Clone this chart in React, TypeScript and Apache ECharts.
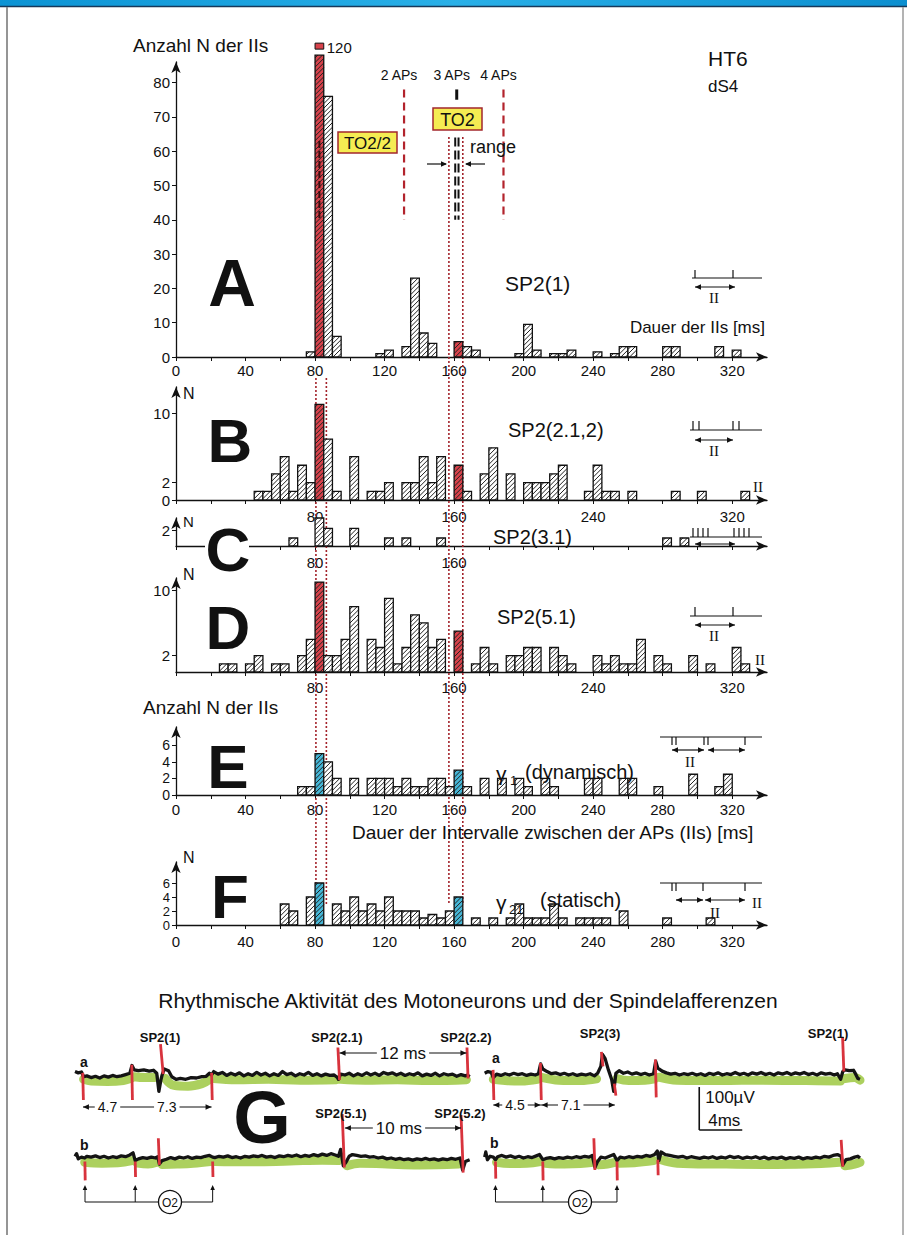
import React, { useEffect, useRef } from "react";
import * as echarts from "echarts";

const SANS = '"Liberation Sans", Arial, Helvetica, sans-serif';
const SERIF = '"Liberation Serif", "DejaVu Serif", serif';

// ---------- histogram data: [bin start (ms), count] ----------
const BIN_MS = 5;
const X_MAX = 340;
const HIGHLIGHT_BINS = [80, 160];
const A_PEAK_TRUE = 120;

const A_HIST = [[75,1.5],[80,88],[85,76],[90,6],[115,1],[120,2],[130,3],[135,23],[140,7],[145,4],[160,4.5],[165,3],[170,2],[195,1],[200,9.5],[205,2],[215,1],[220,1],[225,2],[240,1.5],[250,1],[255,3],[260,3],[280,3],[285,3],[310,3],[320,2]];
const B_HIST = [[45,1],[50,1],[55,3],[60,5],[65,1],[70,4],[75,2],[80,11],[85,7],[90,1],[100,5],[110,1],[115,1],[120,2],[130,2],[135,2],[140,5],[145,2],[150,5],[160,4],[165,1],[175,3],[180,6],[190,3],[200,2],[205,2],[210,2],[215,3],[220,4],[235,1],[240,4],[245,1],[250,1],[260,1],[285,1],[300,1],[325,1]];
const C_HIST = [[65,1],[80,3.5],[85,2.2],[100,2.2],[120,1],[130,1],[150,1],[280,1],[290,1]];
const D_HIST = [[25,1],[30,1],[40,1],[45,2],[55,1],[60,1],[70,2],[75,4],[80,11],[85,2],[90,2],[95,4],[100,8],[110,4],[115,3],[120,9],[125,1],[130,3],[135,7],[140,6],[145,3],[150,4],[160,5],[170,1],[175,3],[180,1],[190,2],[195,2],[200,3],[205,3],[215,3],[220,2],[225,1],[240,2],[245,1],[250,2],[255,1],[260,1],[265,4],[275,2],[280,1],[295,2],[305,1],[320,3],[325,1]];
const E_HIST = [[70,1],[75,1],[80,5],[85,4],[90,2],[100,2],[110,2],[115,2],[120,2],[125,1],[130,2],[135,1],[140,1],[145,2],[150,2],[155,1],[160,3],[165,1],[175,2],[185,2],[195,2],[200,1],[210,2],[215,1],[235,2],[240,2],[255,2],[260,2],[275,1],[295,2.5],[310,1],[315,2.5]];
const F_HIST = [[60,3],[65,2],[75,4],[80,6],[90,3],[95,2],[100,4],[105,2],[110,3],[115,2],[120,4],[125,2],[130,2],[135,2],[140,1],[145,1.5],[150,1],[155,2],[160,4],[170,1],[180,1],[190,1],[195,3],[200,1],[205,1],[210,1],[215,3],[220,1],[230,1],[235,1],[240,1],[245,1],[255,2],[280,1],[305,1]];

const X_TICKS = [0,20,40,60,80,100,120,140,160,180,200,220,240,260,280,300,320];
const X_LABELS_FULL = [0,40,80,120,160,200,240,280,320];
const X_LABELS_EVEN = [80,160,240,320];
const X_LABELS_C = [80,160];
const Y_LABELS_A = [0,10,20,30,40,50,60,70,80];
const Y_LABELS_B = [0,2,10];
const Y_LABELS_C = [2];
const Y_LABELS_D = [2,10];
const Y_LABELS_EF = [0,2,4,6];

// annotation positions in ms / N
const AP_LINES = [131.2, 161.5, 188.4];
const TO2_RANGE = [157, 165];
const TO2_HALF_RANGE = [80.5, 86.5];
const TO2_HALF_LINE = 82.5;

// ---------- recordings (G): [time ms, µV] ----------
const TRACE_A_LEFT = [[0,8],[0.3,5],[0.6,7],[0.8,-4],[1.1,-2],[1.5,-6],[1.9,-3],[2.3,-7],[2.7,-2],[3.1,-5],[3.5,-1],[3.9,-4],[4.3,-2],[4.7,1],[5.1,4],[5.3,22],[5.5,12],[5.9,10],[6.4,12],[6.9,9],[7.3,11],[7.6,4],[7.8,-38],[8.0,-10],[8.1,0],[8.3,14],[8.7,10],[9.0,-4],[9.4,-10],[9.8,-8],[10.3,-10],[10.8,-6],[11.3,-7],[11.8,-4],[12.2,-3],[12.5,4],[12.7,0],[12.9,8],[13.3,2],[13.7,6],[14.1,-1],[14.5,4],[14.9,0],[15.3,5],[15.7,-2],[16.1,3],[16.5,-1],[16.9,6],[17.3,0],[17.7,4],[18.1,-2],[18.5,3],[18.9,-1],[19.3,8],[19.7,1],[20.1,4],[20.5,-2],[20.9,3],[21.3,0],[21.7,6],[22.1,-1],[22.5,3],[22.9,-2],[23.3,2],[23.7,-1],[24.1,0],[24.4,-6],[24.5,-10],[24.7,2],[25.1,0],[25.5,4],[25.9,-2],[26.3,3],[26.7,-1],[27.1,5],[27.5,0],[27.9,4],[28.3,-1],[28.7,6],[29.1,2],[29.5,5],[29.9,0],[30.3,4],[30.7,-1],[31.1,3],[31.5,0],[31.9,5],[32.3,-2],[32.7,2],[33.1,-1],[33.5,4],[33.9,-2],[34.3,3],[34.7,0],[35.1,2],[35.5,-3],[35.9,1],[36.3,-2],[36.5,0],[36.7,-4]];
const TRACE_A_RIGHT = [[38.1,4],[38.4,8],[38.7,6],[38.9,-6],[39.2,2],[39.6,-1],[40,3],[40.4,0],[40.8,4],[41.2,1],[41.6,3],[42,-1],[42.4,2],[42.8,0],[43.1,3],[43.3,26],[43.5,14],[43.9,8],[44.3,3],[44.7,5],[45.1,1],[45.5,4],[45.9,0],[46.3,3],[46.7,-1],[47.1,2],[47.5,0],[47.9,3],[48.3,-2],[48.6,4],[48.9,20],[49.05,48],[49.3,38],[49.6,12],[49.9,-10],[50.1,-38],[50.3,4],[50.6,10],[51,4],[51.4,7],[51.8,2],[52.2,5],[52.6,1],[53,4],[53.4,0],[53.8,3],[54,32],[54.2,16],[54.6,9],[55,5],[55.4,2],[55.8,4],[56.2,0],[56.6,3],[57,1],[57.4,4],[57.8,0],[58.2,3],[58.6,-1],[59,4],[59.4,1],[59.8,5],[60.2,0],[60.6,3],[61,1],[61.4,6],[61.8,1],[62.2,4],[62.6,0],[63,5],[63.4,2],[63.8,6],[64.2,1],[64.6,4],[65,0],[65.4,5],[65.8,2],[66.2,6],[66.6,1],[67,5],[67.4,2],[67.8,6],[68.2,1],[68.6,4],[69,0],[69.4,5],[69.8,2],[70.2,4],[70.6,0],[70.9,3],[71.2,-10],[71.4,8],[71.6,12],[72,10],[72.4,11],[72.6,2],[72.8,-8],[73,-10]];
const TRACE_B_LEFT = [[0,4],[0.15,10],[0.3,-2],[0.6,2],[0.9,0],[1.1,4],[1.5,2],[1.9,5],[2.3,1],[2.7,4],[3.1,0],[3.5,3],[3.9,1],[4.3,5],[4.7,3],[5.1,7],[5.4,12],[5.6,-6],[5.9,-2],[6.3,1],[6.7,-1],[7.1,2],[7.5,0],[7.7,3],[7.85,-14],[8.1,-6],[8.5,-3],[8.9,1],[9.3,-2],[9.7,2],[10.1,0],[10.5,3],[10.9,-1],[11.3,2],[11.7,1],[12.1,4],[12.5,6],[12.8,2],[13.0,1],[13.4,4],[13.8,2],[14.2,5],[14.6,1],[15,3],[15.4,0],[15.8,4],[16.2,2],[16.6,5],[17,3],[17.4,6],[17.8,2],[18.2,4],[18.6,1],[19,5],[19.4,3],[19.8,6],[20.2,4],[20.6,7],[21,3],[21.4,6],[21.8,4],[22.2,8],[22.6,5],[23,9],[23.4,6],[23.8,10],[24.2,7],[24.5,4],[24.7,20],[24.8,6],[24.95,-18],[25.2,-10],[25.5,4],[25.8,8],[26.2,6],[26.6,4],[27,5],[27.4,2],[27.8,3],[28.2,0],[28.6,2],[29,-2],[29.4,0],[29.8,-3],[30.2,-1],[30.6,-4],[31,-2],[31.4,-5],[31.8,-2],[32.2,-4],[32.6,-1],[33,-4],[33.4,-2],[33.8,-5],[34.2,-2],[34.6,-4],[35,-1],[35.4,-3],[35.8,0],[36.05,-28],[36.3,-8],[36.7,-4]];
const TRACE_B_RIGHT = [[38.1,2],[38.2,14],[38.35,-4],[38.6,4],[38.9,2],[39.1,-4],[39.3,3],[39.7,6],[40.1,2],[40.5,5],[40.9,1],[41.3,4],[41.7,0],[42.1,3],[42.5,1],[42.9,5],[43.2,8],[43.5,-4],[43.8,-1],[44.2,1],[44.6,-2],[45,1],[45.4,-1],[45.8,2],[46.2,0],[46.6,3],[47,1],[47.4,4],[47.8,2],[48.1,6],[48.35,-22],[48.6,-8],[48.9,2],[49.3,0],[49.7,4],[50.1,8],[50.4,-6],[50.7,2],[51.1,0],[51.5,3],[51.9,1],[52.3,4],[52.7,2],[53.1,6],[53.5,4],[53.9,8],[54.15,16],[54.3,-6],[54.5,14],[54.9,8],[55.3,6],[55.7,4],[56.1,2],[56.5,4],[56.9,0],[57.3,3],[57.7,1],[58.1,-1],[58.5,2],[58.9,0],[59.3,3],[59.7,-1],[60.1,2],[60.5,0],[60.9,4],[61.3,1],[61.7,3],[62.1,-1],[62.5,2],[62.9,0],[63.3,3],[63.7,-1],[64.1,2],[64.5,-2],[64.9,1],[65.3,-1],[65.7,2],[66.1,-2],[66.5,1],[66.9,-1],[67.3,2],[67.7,-2],[68.1,1],[68.5,-1],[68.9,2],[69.3,0],[69.7,4],[70.1,2],[70.5,6],[70.9,8],[71.25,4],[71.4,-16],[71.7,-4],[72.1,-2],[72.5,2],[72.8,4],[73,0]];

const GREEN_A = [
  [[0.8,-10],[1.5,-14],[3,-15],[4.5,-13],[5.2,-8]],
  [[5.5,-4],[6.5,-6],[7.4,-6]],
  [[8.4,-8],[9.2,-24],[10.5,-26],[11.8,-20],[12.5,-10]],
  [[12.9,-8],[15,-11],[18,-10],[21,-12],[24.3,-11]],
  [[24.7,-10],[27,-12],[30,-11],[33,-13],[36.4,-11]],
  [[38.9,-10],[40,-13],[41.5,-14],[43,-10]],
  [[43.5,-6],[45,-12],[47,-13],[48.5,-9]],
  [[50.4,-8],[51.5,-13],[53,-12],[53.9,-9]],
  [[54.3,-5],[56,-12],[60,-13],[64,-12],[68,-13],[71.2,-14]],
  [[71.6,-8],[72.5,-6],[73,-12]],
];
const GREEN_B = [
  [[0.9,-10],[2.5,-12],[4,-11],[5.3,-6]],
  [[5.8,-12],[6.8,-14],[7.6,-10]],
  [[8.1,-15],[9.5,-14],[11,-12],[12.6,-8]],
  [[13,-8],[16,-9],[20,-7],[23,-5],[24.5,-6]],
  [[25.3,-18],[26.5,-12],[29,-14],[32,-16],[35.7,-14]],
  [[39.2,-10],[40.5,-13],[42,-12],[43.3,-8]],
  [[43.7,-12],[45.5,-14],[47,-13],[48.2,-10]],
  [[48.7,-16],[49.5,-14],[50.2,-10]],
  [[50.6,-12],[52,-11],[53.8,-6]],
  [[54.5,-4],[56,-12],[60,-14],[64,-15],[68,-14],[71.1,-10]],
  [[71.6,-18],[72.5,-14],[73,-10]],
];
// spikes: [t1, v1, t2, v2]
const SPIKES_A = [[0.72,5,0.78,-58],[5.28,24,5.34,-58],[7.95,72,8.2,2],[12.7,5,12.76,-58],[24.45,64,24.6,-12],[36.45,64,36.55,-8],[38.88,12,38.95,-58],[43.28,28,43.36,-58],[48.95,54,49.1,20],[50.15,-20,50.3,-48],[53.97,36,54.05,-52],[71.38,88,71.5,8]];
const SPIKES_B = [[0.92,-8,0.95,-52],[5.6,-8,5.63,-44],[7.75,46,7.85,-16],[12.8,-8,12.83,-44],[24.85,102,25.05,-22],[35.9,100,36.1,-34],[39.1,-8,39.13,-48],[43.5,-8,43.53,-52],[48.25,46,48.35,-28],[50.4,-8,50.43,-52],[54.2,-4,54.23,-40],[71.25,42,71.4,-20]];

const O2_LEFT = [0.93, 5.6, 12.8];
const O2_RIGHT = [39.1, 43.5, 50.4];

// ---------- layout ----------
const LEFT = 176;
const WIDTH = 591;
const PANELS = [
  { top: 62, height: 295, ymax: 86, yLabels: Y_LABELS_A, yFont: 15, xLabels: X_LABELS_FULL, xMargin: 6, data: A_HIST, hl: "#d7424b" },
  { top: 387, height: 113, ymax: 13, yLabels: Y_LABELS_B, yFont: 15, xLabels: X_LABELS_EVEN, xMargin: 9, data: B_HIST, hl: "#d7424b" },
  { top: 518, height: 28, ymax: 3.5, yLabels: Y_LABELS_C, yFont: 15, xLabels: X_LABELS_C, xMargin: 9, data: C_HIST, hl: null },
  { top: 578, height: 94, ymax: 11.5, yLabels: Y_LABELS_D, yFont: 15, xLabels: X_LABELS_EVEN, xMargin: 8, data: D_HIST, hl: "#d7424b" },
  { top: 727, height: 68, ymax: 8.2, yLabels: Y_LABELS_EF, yFont: 14, xLabels: X_LABELS_FULL, xMargin: 7, data: E_HIST, hl: "#45b6d6" },
  { top: 862, height: 63, ymax: 9, yLabels: Y_LABELS_EF, yFont: 13, xLabels: X_LABELS_FULL, xMargin: 9, data: F_HIST, hl: "#45b6d6" },
];

function histSeries(i: number, data: number[][], hl: string | null, peak?: number) {
  return {
    type: "custom",
    xAxisIndex: i,
    yAxisIndex: i,
    data,
    clip: false,
    z: 3,
    silent: true,
    renderItem: (_p: any, api: any) => {
      const start = api.value(0);
      const count = api.value(1);
      const a = api.coord([start, 0]);
      const b = api.coord([start + BIN_MS, count]);
      const x0 = a[0], yb = a[1], w = b[0] - a[0], yt = b[1], h = yb - yt;
      const colored = !!hl && HIGHLIGHT_BINS.indexOf(start) >= 0;
      const children: any[] = [
        { type: "rect", shape: { x: x0, y: yt, width: w, height: h }, style: { fill: colored ? hl : "#fff" } },
      ];
      const step = 4.6;
      for (let v = step * 0.6; v < w + h; v += step) {
        const p1 = v <= w ? [x0 + v, yt] : [x0 + w, yt + v - w];
        const p2 = v <= h ? [x0, yt + v] : [x0 + v - h, yb];
        children.push({ type: "line", shape: { x1: p1[0], y1: p1[1], x2: p2[0], y2: p2[1] }, style: { stroke: "#222", lineWidth: 1 } });
      }
      children.push({ type: "rect", shape: { x: x0, y: yt, width: w, height: h }, style: { fill: "none", stroke: "#111", lineWidth: 1.3 } });
      if (peak && colored && start === HIGHLIGHT_BINS[0]) {
        children.push({ type: "rect", shape: { x: x0, y: yt - 12, width: w, height: 6 }, style: { fill: hl, stroke: "#111", lineWidth: 1 } });
        children.push({ type: "text", style: { text: String(peak), x: b[0] + 3, y: yt - 8, fontSize: 15, fontFamily: SANS, fill: "#111", textVerticalAlign: "middle", verticalAlign: "middle" } });
      }
      return { type: "group", children };
    },
  };
}

function buildOption() {
  const grid: any[] = [];
  const xAxis: any[] = [];
  const yAxis: any[] = [];
  const series: any[] = [];
  const axisLine = { show: true, onZero: false, lineStyle: { color: "#111", width: 1.3 }, symbol: ["none", "arrow"], symbolSize: [7, 11] };
  PANELS.forEach((p, i) => {
    grid.push({ left: LEFT, top: p.top, width: WIDTH, height: p.height });
    xAxis.push({
      type: "value", gridIndex: i, min: 0, max: X_MAX,
      axisLine,
      axisTick: { show: true, length: 4, lineStyle: { color: "#111", width: 1 }, customValues: X_TICKS },
      axisLabel: { show: true, customValues: p.xLabels, margin: p.xMargin, fontSize: 15, color: "#111", fontFamily: SANS, showMinLabel: true, showMaxLabel: true, hideOverlap: false },
      splitLine: { show: false },
    });
    yAxis.push({
      type: "value", gridIndex: i, min: 0, max: p.ymax,
      axisLine,
      axisTick: { show: true, length: 4, lineStyle: { color: "#111", width: 1 }, customValues: p.yLabels },
      axisLabel: { show: true, customValues: p.yLabels, margin: 6, fontSize: p.yFont, color: "#111", fontFamily: SANS, showMinLabel: true, showMaxLabel: true, hideOverlap: false },
      splitLine: { show: false },
    });
    series.push(histSeries(i, p.data, p.hl, i === 0 ? A_PEAK_TRUE : undefined));
  });
  // recordings
  [1032, 1115].forEach((top, k) => {
    const gi = 6 + k;
    grid.push({ left: 75, top, width: 785, height: 86 });
    xAxis.push({ type: "value", gridIndex: gi, min: 0, max: 73, show: false });
    yAxis.push({ type: "value", gridIndex: gi, min: -100, max: 100, show: false });
  });
  const join = (segs: any[][]) => segs.reduce((acc: any[], s: any[], i: number) => acc.concat(i ? [[s[0][0], "-"]] : [], s), []);
  const rows = [
    { gi: 6, green: GREEN_A, black: [...TRACE_A_LEFT, [37.4, "-"], ...TRACE_A_RIGHT], spikes: SPIKES_A },
    { gi: 7, green: GREEN_B, black: [...TRACE_B_LEFT, [37.4, "-"], ...TRACE_B_RIGHT], spikes: SPIKES_B },
  ];
  rows.forEach((r) => {
    series.push({
      type: "line", xAxisIndex: r.gi, yAxisIndex: r.gi, data: join(r.green), symbol: "none", smooth: 0.4, silent: true, z: 2,
      lineStyle: { color: "#a8cd55", width: 9, cap: "round", opacity: 0.95 },
    });
    series.push({
      type: "line", xAxisIndex: r.gi, yAxisIndex: r.gi, data: r.black, symbol: "none", silent: true, z: 3,
      lineStyle: { color: "#141414", width: 3.3, join: "round" },
    });
    series.push({
      type: "custom", xAxisIndex: r.gi, yAxisIndex: r.gi, data: r.spikes, silent: true, z: 4, clip: false,
      renderItem: (_p: any, api: any) => {
        const p1 = api.coord([api.value(0), api.value(1)]);
        const p2 = api.coord([api.value(2), api.value(3)]);
        return { type: "line", shape: { x1: p1[0], y1: p1[1], x2: p2[0], y2: p2[1] }, style: { stroke: "#d8333d", lineWidth: 2.8 } };
      },
    });
  });
  return { animation: false, backgroundColor: "#fff", grid, xAxis, yAxis, series };
}

function buildGraphic(chart: any) {
  const g: any[] = [];
  const px = (gi: number, x: number, y: number) => chart.convertToPixel({ gridIndex: gi }, [x, y]) as number[];
  const txt = (text: string, x: number, y: number, size: number, o: any = {}) =>
    g.push({
      type: "text", z: o.z ?? 60,
      style: {
        text, x, y, fontSize: size, fontFamily: o.font || SANS, fontWeight: o.weight || "normal", fill: o.color || "#111",
        textAlign: o.align || "left", align: o.align || "left", textVerticalAlign: "middle", verticalAlign: "middle",
        backgroundColor: o.bg, padding: o.bg ? [0, 3] : 0,
      },
    });
  const line = (x1: number, y1: number, x2: number, y2: number, o: any = {}) =>
    g.push({ type: "line", z: o.z ?? 60, shape: { x1, y1, x2, y2 }, style: { stroke: o.color || "#111", lineWidth: o.w || 1.2, lineDash: o.dash || null } });
  const head = (x: number, y: number, dir: string, s = 6) => {
    let pts: number[][];
    if (dir === "r") pts = [[x, y], [x - s, y - s / 2.2], [x - s, y + s / 2.2]];
    else if (dir === "l") pts = [[x, y], [x + s, y - s / 2.2], [x + s, y + s / 2.2]];
    else pts = [[x, y], [x - s / 2.2, y + s], [x + s / 2.2, y + s]];
    g.push({ type: "polygon", z: 61, shape: { points: pts }, style: { fill: "#111" } });
  };
  const dbl = (x1: number, x2: number, y: number) => { line(x1, y, x2, y); head(x1, y, "l"); head(x2, y, "r"); };

  // frame
  g.push({ type: "rect", z: 70, shape: { x: 0, y: 0, width: 907, height: 6 }, style: { fill: { type: "linear", x: 0, y: 0, x2: 1, y2: 0, colorStops: [{ offset: 0, color: "#0b93d4" }, { offset: 0.5, color: "#29b0e8" }, { offset: 1, color: "#0c8fd0" }] } } });
  line(0, 6.5, 907, 6.5, { color: "#17385a", w: 1.6, z: 70 });
  line(7, 7, 7, 1235, { color: "#8a8a8a", w: 1.8, z: 70 });
  line(903, 7, 903, 1235, { color: "#9a9a9a", w: 1.5, z: 70 });

  // dotted TO2 range lines across panels
  TO2_RANGE.forEach((v) => { const x = px(0, v, 0)[0]; line(x, 137, x, 905, { color: "#a3232b", w: 1.6, dash: [2, 2], z: 1 }); });
  TO2_HALF_RANGE.forEach((v) => { const x = px(0, v, 0)[0]; line(x, 378, x, 905, { color: "#a3232b", w: 1.6, dash: [2, 2], z: 1 }); });

  // Panel A annotations
  txt("Anzahl N der IIs", 133, 45, 19);
  txt("HT6", 708, 58, 21);
  txt("dS4", 708, 86, 17);
  ["2 APs", "3 APs", "4 APs"].forEach((s, i) => txt(s, px(0, AP_LINES[i], 0)[0] - 5, 75, 14, { align: "center" }));
  [0, 2].forEach((i) => {
    const x = px(0, AP_LINES[i], 0)[0];
    line(x, px(0, 0, 78)[1], x, px(0, 0, 40)[1], { color: "#b2232c", w: 2.2, dash: [8, 5] });
  });
  {
    const x = px(0, AP_LINES[1], 0)[0];
    line(x, px(0, 0, 78)[1], x, px(0, 0, 75)[1], { color: "#111", w: 3 });
    line(x - 1.5, px(0, 0, 64)[1], x - 1.5, px(0, 0, 40)[1], { color: "#111", w: 2, dash: [9, 4] });
    line(x + 1.8, px(0, 0, 64)[1], x + 1.8, px(0, 0, 40)[1], { color: "#111", w: 2, dash: [9, 4] });
    const xh = px(0, TO2_HALF_LINE, 0)[0];
    line(xh, px(0, 0, 63)[1], xh, px(0, 0, 40)[1], { color: "#3a0d10", w: 2, dash: [7, 3] });
  }
  g.push({ type: "rect", z: 62, shape: { x: 338, y: 132, width: 59, height: 21 }, style: { fill: "#f5ec52", stroke: "#a3272c", lineWidth: 1.5 } });
  txt("TO2/2", 367.5, 143, 17, { align: "center", z: 63 });
  g.push({ type: "rect", z: 62, shape: { x: 433, y: 108, width: 49, height: 22 }, style: { fill: "#f5ec52", stroke: "#a3272c", lineWidth: 1.5 } });
  txt("TO2", 457.5, 119.5, 18, { align: "center", z: 63 });
  txt("range", 470, 147, 18);
  line(427, 164, 446, 164); head(447, 164, "r");
  line(485, 164, 466, 164); head(465, 164, "l");
  txt("A", 232, 283, 66, { align: "center", weight: "bold" });
  txt("SP2(1)", 505, 283, 21);
  line(692, 278, 762, 278); line(695, 270, 695, 278); line(733, 270, 733, 278);
  dbl(695, 735, 287);
  txt("II", 714, 298, 15, { font: SERIF, align: "center" });
  txt("Dauer der IIs [ms]", 765, 327, 17, { align: "right" });

  // Panel B
  txt("N", 183, 393, 16);
  txt("B", 230, 440, 62, { align: "center", weight: "bold" });
  txt("SP2(2.1,2)", 508, 430, 20);
  txt("II", 758, 487, 15, { font: SERIF, align: "center" });
  line(690, 430, 762, 430);
  [693, 699, 733, 739].forEach((x) => line(x, 421, x, 430));
  dbl(695, 733, 440);
  txt("II", 714, 451, 15, { font: SERIF, align: "center" });

  // Panel C
  txt("N", 183, 521, 15);
  g.push({ type: "rect", z: 55, shape: { x: 205, y: 540, width: 44, height: 12 }, style: { fill: "#fff" } });
  txt("C", 228, 549, 62, { align: "center", weight: "bold" });
  txt("SP2(3.1)", 493, 537, 20);
  line(690, 537, 762, 537);
  [693, 698, 703, 708, 734, 739, 744, 749].forEach((x) => line(x, 528, x, 537));
  dbl(695, 735, 544);

  // Panel D
  txt("N", 183, 574, 16);
  txt("D", 228, 627, 62, { align: "center", weight: "bold" });
  txt("SP2(5.1)", 497, 617, 20);
  txt("II", 760, 660, 15, { font: SERIF, align: "center" });
  line(690, 616, 762, 616);
  [695, 733].forEach((x) => line(x, 607, x, 616));
  dbl(695, 735, 625);
  txt("II", 714, 636, 15, { font: SERIF, align: "center" });

  // Panel E
  txt("Anzahl N der IIs", 143, 707, 19);
  txt("E", 228, 766, 62, { align: "center", weight: "bold" });
  txt("γ", 496, 773, 21);
  txt("1", 510, 780, 13);
  txt("(dynamisch)", 525, 772, 20);
  line(660, 737, 762, 737);
  [672, 676, 704, 708, 745].forEach((x) => line(x, 737, x, 745));
  dbl(672, 704, 750); dbl(708, 745, 750);
  txt("II", 690, 762, 15, { font: SERIF, align: "center" });
  txt("Dauer der Intervalle zwischen der APs (IIs) [ms]", 352, 832, 19);

  // Panel F
  txt("N", 183, 857, 16);
  txt("F", 230, 896, 62, { align: "center", weight: "bold" });
  txt("γ", 496, 902, 21);
  txt("21", 509, 909, 13);
  txt("(statisch)", 540, 900, 20);
  txt("II", 757, 903, 15, { font: SERIF, align: "center" });
  line(660, 883, 762, 883);
  [672, 676, 703, 745].forEach((x) => line(x, 883, x, 891));
  dbl(676, 703, 900); dbl(705, 745, 900);
  txt("II", 715, 913, 15, { font: SERIF, align: "center" });

  // Panel G
  txt("Rhythmische Aktivität des Motoneurons und der Spindelafferenzen", 468, 1000, 21, { align: "center" });
  txt("G", 262, 1117, 74, { align: "center", weight: "bold" });
  txt("a", 80, 1062, 14, { weight: "bold" });
  txt("a", 492, 1058, 14, { weight: "bold" });
  txt("b", 80, 1145, 14, { weight: "bold" });
  txt("b", 490, 1143, 14, { weight: "bold" });
  txt("SP2(1)", 160, 1037, 13, { align: "center", weight: "bold" });
  txt("SP2(2.1)", 337, 1037, 13, { align: "center", weight: "bold" });
  txt("SP2(2.2)", 466, 1037, 13, { align: "center", weight: "bold" });
  txt("SP2(3)", 600, 1033, 13, { align: "center", weight: "bold" });
  txt("SP2(1)", 828, 1033, 13, { align: "center", weight: "bold" });
  txt("SP2(5.1)", 341, 1113, 13, { align: "center", weight: "bold" });
  txt("SP2(5.2)", 460, 1113, 13, { align: "center", weight: "bold" });

  const ta = (t: number) => px(6, t, 0)[0];
  const tb = (t: number) => px(7, t, 0)[0];
  // 12 ms / 10 ms
  {
    const x1 = ta(24.6), x2 = ta(36.4), y = 1053;
    dbl(x1, x2, y); txt("12 ms", (x1 + x2) / 2, y, 17, { align: "center", bg: "#fff", z: 62 });
    const b1 = tb(25.1), b2 = tb(35.9), yb = 1128;
    dbl(b1, b2, yb); txt("10 ms", (b1 + b2) / 2 - 4, yb, 17, { align: "center", bg: "#fff", z: 62 });
  }
  // 4.7 / 7.3 and 4.5 / 7.1
  {
    const y = 1107;
    const a0 = ta(0.74), a1 = ta(5.3), a2 = ta(12.7);
    line(a0, y, a1, y); head(a0, y, "l"); txt("4.7", (a0 + a1) / 2, y, 14, { align: "center", bg: "#fff", z: 62 });
    line(a1, y, a2, y); head(a2, y, "r"); txt("7.3", (a1 + a2) / 2 - 5, y, 14, { align: "center", bg: "#fff", z: 62 });
    const r0 = ta(38.9), r1 = ta(43.3), r2 = ta(50.2), yr = 1105;
    dbl(r0, r1, yr); txt("4.5", (r0 + r1) / 2 - 2, yr, 14, { align: "center", bg: "#fff", z: 62 });
    line(r1, yr, r2, yr); head(r1 + 1, yr, "l"); head(r2, yr, "r"); txt("7.1", (r1 + r2) / 2 - 7, yr, 14, { align: "center", bg: "#fff", z: 62 });
  }
  // scale bar 100 µV / 4 ms
  {
    const p0 = px(6, 58.05, -28), p1 = px(6, 58.05, -128), p2 = px(6, 62.05, -128);
    line(p0[0], p0[1], p1[0], p1[1], { w: 1.6 });
    line(p1[0], p1[1], p2[0], p2[1], { w: 1.6 });
    txt("100µV", p0[0] + 6, 1097, 17);
    txt("4ms", p0[0] + 9, 1120, 17);
  }
  // O2 brackets
  [[O2_LEFT, 170], [O2_RIGHT, 580]].forEach(([ts, cx]: any) => {
    const xs = ts.map((t: number) => tb(t));
    const y = 1202;
    xs.forEach((x: number) => { line(x, y, x, 1187, { w: 1 }); head(x, 1185, "u", 5); });
    line(xs[0], y, xs[2], y, { w: 1.2 });
    g.push({ type: "circle", z: 62, shape: { cx, cy: y, r: 11.5 }, style: { fill: "#fff", stroke: "#111", lineWidth: 1.3 } });
    txt("O2", cx, y + 0.5, 12, { align: "center", z: 63 });
  });

  return g;
}

export default function App() {
  const ref = useRef<HTMLDivElement>(null);
  useEffect(() => {
    const chart = echarts.init(ref.current as HTMLDivElement, null, { renderer: "svg" });
    chart.setOption(buildOption() as any);
    chart.setOption({ graphic: { elements: buildGraphic(chart) } } as any);
    return () => chart.dispose();
  }, []);
  return <div ref={ref} style={{ position: "absolute", left: 0, top: 0, width: 907, height: 1235, background: "#fff" }} />;
}
